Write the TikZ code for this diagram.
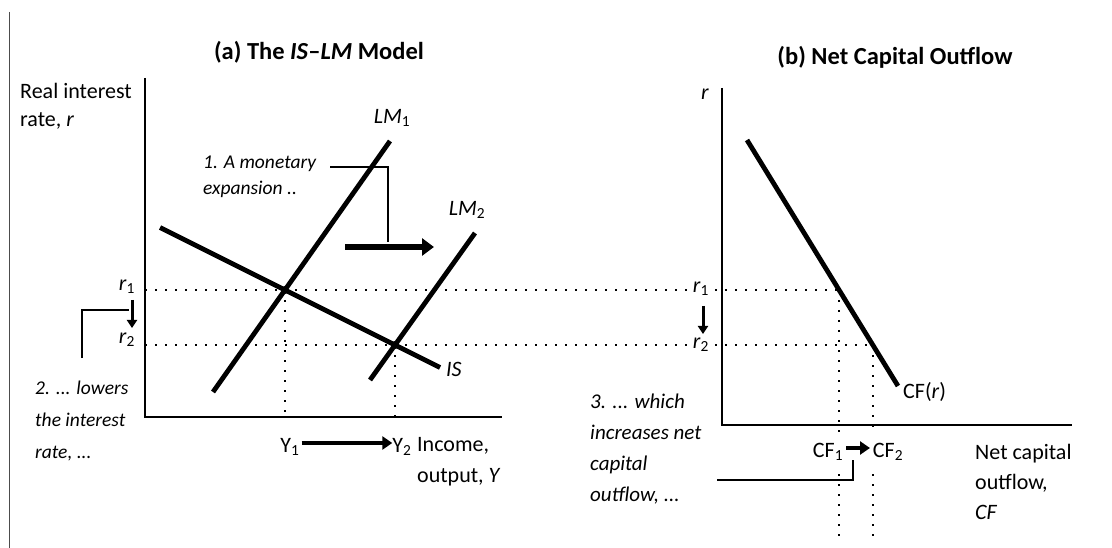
\documentclass[tikz,border=0pt]{standalone}
\usepackage{fontspec}
\setmainfont{Carlito}
\usetikzlibrary{arrows.meta}
\newcommand{\sbs}[1]{\textsubscript{\upshape #1}}
\begin{document}
\begin{tikzpicture}[x=1pt,y=-1pt,
  curve/.style={line width=4.8pt},
  axisline/.style={line width=2.2pt},
  dotline/.style={line width=2pt, dash pattern=on 2pt off 8pt},
  brk/.style={line width=1.3pt},
  lbl/.style={inner sep=0pt, font=\fontsize{22}{26}\selectfont},
  ttl/.style={inner sep=0pt, font=\bfseries\fontsize{24.5}{28}\selectfont},
  note/.style={inner sep=0pt, align=left, font=\itshape\fontsize{21}{31}\selectfont},
  plain/.style={inner sep=0pt, align=left, font=\fontsize{22}{30}\selectfont},
  bigarrow/.style={line width=6pt, -{Triangle[length=12pt,width=17pt]}},
  midarrow/.style={line width=4.5pt, -{Triangle[length=10pt,width=13pt]}},
  downarrow/.style={line width=3pt, -{Triangle[length=8pt,width=10pt]}},
  dotmark/.style={circle, fill, inner sep=0pt, minimum size=8pt}
]
\useasboundingbox (0,0) rectangle (1112,548);
% left border
\coordinate (bt) at (9,12);
\coordinate (bb) at (9,548);
\draw[line width=1pt, black!70] (bt) -- (bb);

% ---------- panel (a) ----------
\node[ttl] (ta) at (319,52) {(a) The \textit{IS}--\textit{LM} Model};
\node[plain, anchor=west, font=\fontsize{22}{28}\selectfont] (ylab) at (20,106) {Real interest\\rate, \textit{r}};

\coordinate (ya) at (145,78);
\coordinate (oa) at (145,417);
\coordinate (xa) at (502,417);
\draw[axisline] (ya) -- (oa) -- (xa);

\coordinate (E1) at (285,290);
\coordinate (E2) at (395,345);
\coordinate (isA) at (160,227.5);
\coordinate (isB) at (440,367.5);
\coordinate (lmoA) at (213,392);
\coordinate (lmoB) at (390,141);
\coordinate (lmtA) at (370,380);
\coordinate (lmtB) at (475,233);

% dotted guides
\coordinate (r1a) at (145,290);
\coordinate (r2a) at (145,345);
\coordinate (F1) at (839,290);
\coordinate (F2) at (873,345);
\draw[dotline] (r1a) -- (F1);
\draw[dotline] (r2a) -- (F2);
\coordinate (Y1ax) at (285,417);
\coordinate (Y2ax) at (395,417);
\draw[dotline] (E1) -- (Y1ax);
\draw[dotline] (E2) -- (Y2ax);

\draw[curve] (isA) -- (isB);
\draw[curve] (lmoA) -- (lmoB);
\draw[curve] (lmtA) -- (lmtB);
\node[dotmark] (d1) at (E1) {};
\node[dotmark] (d2) at (E2) {};

\node[lbl] (LM1) at (392,118) {\textit{LM}\sbs{1}};
\node[lbl] (LM2) at (467,210) {\textit{LM}\sbs{2}};
\node[lbl, anchor=west] (IS) at (446,369) {\textit{IS}};

\node[note, anchor=west, font=\itshape\fontsize{19.5}{26}\selectfont] (n1) at (203,177) {1. A monetary\\expansion ..};
\coordinate (b1a) at (330,167);
\coordinate (b1b) at (388,167);
\coordinate (b1c) at (388,242);
\draw[brk] (b1a) -- (b1b) -- (b1c);
\coordinate (m1) at (345,247);
\coordinate (m2) at (434,247);
\draw[bigarrow] (m1) -- (m2);

\node[lbl] (r1l) at (127,287) {\textit{r}\sbs{1}};
\node[lbl] (r2l) at (127,340) {\textit{r}\sbs{2}};
\coordinate (da1) at (132,300);
\coordinate (da2) at (132,328);
\draw[downarrow] (da1) -- (da2);
\coordinate (b2a) at (82,358);
\coordinate (b2b) at (82,310);
\coordinate (b2c) at (129,310);
\draw[brk] (b2a) -- (b2b) -- (b2c);
\node[note, anchor=west, font=\itshape\fontsize{19.5}{32}\selectfont] (n2) at (35,421) {2. ... lowers\\the interest\\rate, ...};

\node[lbl] (Y1) at (290,447) {Y\sbs{1}};
\node[lbl] (Y2) at (402,447) {Y\sbs{2}};
\draw[midarrow] (Y1.east) ++(2,-4) coordinate (ya1) -- (Y2.west |- ya1);
\node[plain, anchor=west, font=\fontsize{22}{31}\selectfont] (xlab) at (417,462) {Income,\\output, \textit{Y}};

% ---------- panel (b) ----------
\node[ttl] (tb) at (895,57) {(b) Net Capital Outflow};
\node[lbl] (rb) at (705,94) {\textit{r}};
\coordinate (yb) at (722,88);
\coordinate (ob) at (722,425);
\coordinate (xb) at (1072,425);
\draw[axisline] (yb) -- (ob) -- (xb);

\coordinate (cfA) at (747,140);
\coordinate (cfB) at (898,386);
\draw[curve] (cfA) -- (cfB);
\node[lbl, anchor=west] (cfr) at (903,392) {CF(\textit{r})};

\node[lbl, fill=white, inner sep=1pt] (r1r) at (701,289) {\textit{r}\sbs{1}};
\node[lbl, fill=white, inner sep=1pt] (r2r) at (701,345) {\textit{r}\sbs{2}};
\coordinate (db1) at (703,306);
\coordinate (db2) at (703,334);
\draw[downarrow] (db1) -- (db2);

\coordinate (F1ax) at (839,432);
\coordinate (F2ax) at (873,432);
\coordinate (F1lo) at (839,474);
\coordinate (F2lo) at (873,474);
\coordinate (F1bt) at (839,540);
\coordinate (F2bt) at (873,540);
\draw[dotline] (F1) -- (F1ax);
\draw[dotline] (F2) -- (F2ax);
\draw[dotline] (F1lo) -- (F1bt);
\draw[dotline] (F2lo) -- (F2bt);

\node[lbl] (CF1) at (828,452) {CF\sbs{1}};
\node[lbl] (CF2) at (888,452) {CF\sbs{2}};
\coordinate (ca1) at (846,448);
\coordinate (ca2) at (870,448);
\draw[midarrow] (ca1) -- (ca2);
\coordinate (b3a) at (717,480);
\coordinate (b3b) at (853,480);
\coordinate (b3c) at (853,460);
\draw[brk] (b3a) -- (b3b) -- (b3c);

\node[note, anchor=west] (n3) at (590,449) {3. ... which\\increases net\\capital\\outflow, ...};
\node[plain, anchor=west] (xblab) at (975,482) {Net capital\\outflow,\\\textit{CF}};
\end{tikzpicture}
\end{document}
